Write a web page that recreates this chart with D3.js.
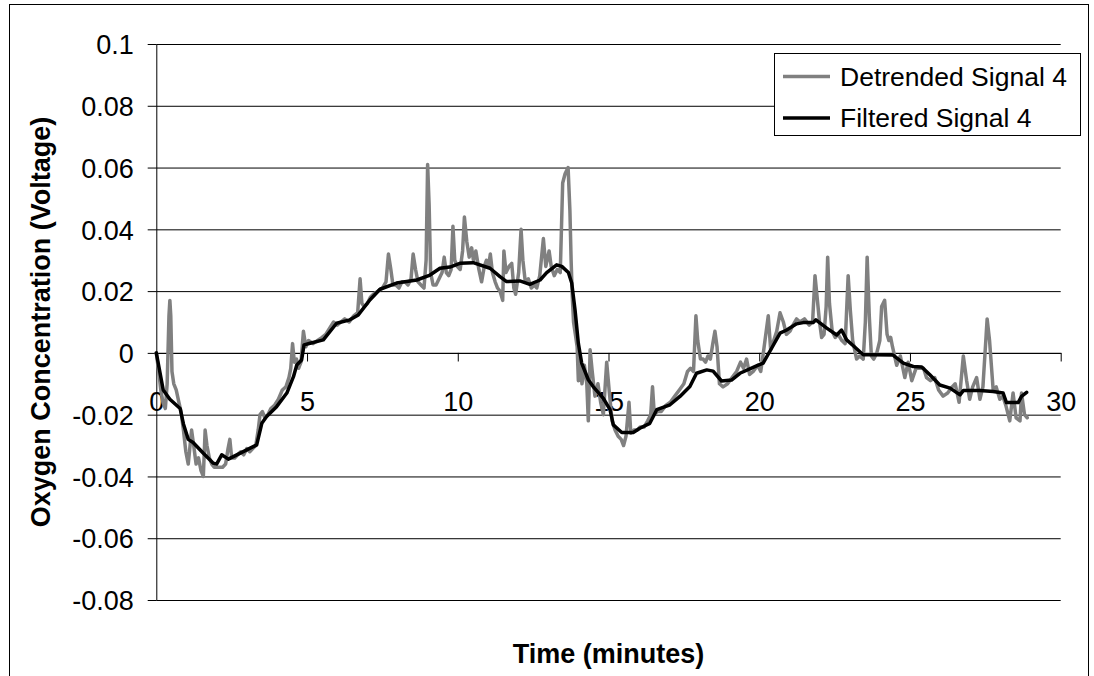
<!DOCTYPE html>
<html>
<head>
<meta charset="utf-8">
<script src="https://cdn.jsdelivr.net/npm/d3@7"></script>
<style>
  html, body { margin: 0; padding: 0; background: #fff; }
  svg { display: block; font-family: "Liberation Sans", Arial, sans-serif; }
</style>
</head>
<body>
<svg id="chart" width="1094" height="676"></svg>
<script>
// ---------------- data ----------------
const detrendedTime = [
  0.00,0.08,0.15,0.22,0.30,0.36,0.42,0.45,0.48,0.52,0.58,0.66,0.75,0.82,0.90,0.98,1.06,1.12,1.17,1.24,
  1.32,1.40,1.48,1.56,1.62,1.68,1.76,1.84,1.92,2.00,2.10,2.20,2.30,2.38,2.44,2.50,2.60,2.70,2.80,2.90,
  3.00,3.10,3.20,3.30,3.38,3.44,3.52,3.60,3.70,3.80,3.92,4.05,4.18,4.30,4.40,4.46,4.52,4.58,4.65,4.72,
  4.80,4.88,4.96,5.05,5.20,5.35,5.50,5.62,5.75,5.88,6.00,6.12,6.25,6.40,6.55,6.68,6.76,6.82,6.90,7.00,
  7.10,7.20,7.35,7.50,7.62,7.70,7.78,7.85,7.95,8.05,8.15,8.25,8.35,8.45,8.52,8.60,8.68,8.78,8.88,8.95,
  9.00,9.05,9.10,9.18,9.28,9.38,9.48,9.55,9.62,9.70,9.78,9.84,9.90,9.98,10.08,10.16,10.22,10.30,10.38,10.46,
  10.52,10.60,10.70,10.79,10.88,10.95,11.02,11.08,11.15,11.24,11.32,11.40,11.49,11.53,11.60,11.70,11.79,11.86,11.92,12.02,
  12.10,12.16,12.24,12.34,12.44,12.54,12.62,12.72,12.84,12.92,13.03,13.10,13.20,13.30,13.40,13.48,13.56,13.66,13.72,13.76,
  13.80,13.84,13.90,13.96,14.00,14.05,14.12,14.20,14.28,14.33,14.39,14.46,14.55,14.65,14.74,14.83,14.94,15.03,15.12,15.22,
  15.32,15.42,15.50,15.58,15.68,15.74,15.84,15.95,16.05,16.18,16.30,16.40,16.46,16.52,16.62,16.75,16.90,17.05,17.20,17.35,
  17.50,17.62,17.72,17.82,17.90,17.96,18.05,18.14,18.22,18.30,18.38,18.46,18.53,18.60,18.68,18.80,18.95,19.10,19.25,19.38,
  19.48,19.58,19.68,19.80,19.95,20.05,20.15,20.30,20.38,20.48,20.58,20.69,20.80,20.90,21.02,21.12,21.24,21.35,21.50,21.66,
  21.77,21.85,21.92,22.00,22.07,22.15,22.22,22.27,22.33,22.42,22.52,22.62,22.74,22.85,22.95,23.02,23.10,23.23,23.33,23.45,
  23.52,23.58,23.65,23.72,23.80,23.90,24.00,24.06,24.16,24.24,24.30,24.36,24.42,24.56,24.68,24.83,24.94,25.06,25.20,25.32,
  25.45,25.55,25.68,25.82,25.95,26.10,26.25,26.40,26.50,26.63,26.77,26.88,26.98,27.08,27.21,27.32,27.42,27.56,27.64,27.76,
  27.86,27.98,28.08,28.18,28.31,28.42,28.52,28.65,28.70,28.80,28.89
];
const detrendedValues = [
  0.000,-0.006,-0.012,-0.016,-0.018,-0.010,0.012,0.017,0.012,-0.006,-0.010,-0.012,-0.016,-0.019,-0.025,-0.032,-0.036,-0.030,-0.025,-0.030,
  -0.036,-0.034,-0.038,-0.040,-0.025,-0.030,-0.034,-0.036,-0.037,-0.037,-0.037,-0.037,-0.036,-0.031,-0.028,-0.034,-0.034,-0.033,-0.032,-0.033,
  -0.031,-0.032,-0.031,-0.030,-0.025,-0.020,-0.019,-0.021,-0.020,-0.018,-0.017,-0.015,-0.012,-0.011,-0.008,-0.005,0.003,-0.003,-0.002,-0.005,
  -0.003,0.007,0.002,0.004,0.003,0.004,0.005,0.006,0.008,0.010,0.009,0.010,0.011,0.010,0.012,0.013,0.024,0.016,0.015,0.016,
  0.018,0.019,0.020,0.021,0.023,0.032,0.027,0.022,0.022,0.021,0.023,0.023,0.022,0.024,0.032,0.027,0.023,0.022,0.021,0.030,
  0.061,0.048,0.026,0.022,0.022,0.024,0.026,0.031,0.026,0.025,0.027,0.041,0.030,0.028,0.027,0.033,0.044,0.036,0.031,0.034,
  0.030,0.033,0.027,0.023,0.028,0.030,0.028,0.032,0.026,0.023,0.021,0.020,0.017,0.033,0.026,0.028,0.029,0.021,0.019,0.026,
  0.040,0.030,0.023,0.024,0.021,0.022,0.021,0.025,0.037,0.028,0.033,0.028,0.025,0.027,0.026,0.055,0.058,0.060,0.046,0.030,
  0.018,0.010,0.006,0.002,-0.009,-0.002,-0.010,-0.004,-0.010,-0.022,0.001,-0.006,-0.014,-0.010,-0.016,-0.020,-0.003,-0.013,-0.022,-0.025,
  -0.027,-0.028,-0.030,-0.027,-0.016,-0.026,-0.025,-0.025,-0.024,-0.024,-0.022,-0.020,-0.011,-0.020,-0.019,-0.019,-0.017,-0.016,-0.014,-0.012,
  -0.010,-0.006,-0.005,-0.006,0.012,0.004,-0.002,-0.002,-0.003,-0.001,-0.002,0.003,0.007,0.002,-0.010,-0.011,-0.010,-0.008,-0.006,-0.003,
  -0.005,-0.002,-0.007,-0.006,-0.004,-0.006,0.001,0.012,0.001,0.004,0.007,0.013,0.010,0.006,0.007,0.009,0.011,0.010,0.011,0.009,
  0.010,0.025,0.018,0.010,0.005,0.006,0.015,0.031,0.016,0.007,0.005,0.006,0.004,0.003,0.025,0.014,0.004,-0.002,-0.001,-0.002,
  0.010,0.031,0.012,-0.001,-0.002,0.000,0.004,0.015,0.017,0.006,0.004,0.005,0.002,-0.004,-0.001,-0.008,-0.003,-0.009,-0.005,-0.005,
  -0.005,-0.008,-0.009,-0.008,-0.012,-0.014,-0.013,-0.011,-0.010,-0.016,-0.001,-0.009,-0.015,-0.011,-0.008,-0.015,-0.011,0.011,0.004,-0.012,
  -0.011,-0.015,-0.014,-0.017,-0.022,-0.013,-0.021,-0.022,-0.013,-0.020,-0.021
];

const filteredTime = [
  0.00,0.23,0.45,0.79,0.90,1.06,1.22,1.56,1.89,2.00,2.17,2.39,2.67,3.00,3.33,3.50,3.66,3.99,4.33,4.55,
  4.66,4.82,4.90,5.10,5.54,5.98,6.42,6.70,7.09,7.42,7.97,8.64,9.08,9.41,9.74,10.07,10.51,11.07,11.40,11.62,
  12.06,12.39,12.73,12.95,13.28,13.45,13.67,13.78,13.89,14.00,14.11,14.33,14.49,14.83,15.05,15.16,15.44,15.82,16.04,16.37,
  16.60,17.04,17.37,17.70,17.92,18.26,18.47,18.75,19.08,19.36,19.91,20.13,20.41,20.69,20.91,21.24,21.46,21.79,21.88,22.24,
  22.57,22.73,22.90,23.12,23.45,23.78,24.44,24.78,25.11,25.39,25.66,25.99,26.33,26.66,26.77,27.32,27.76,28.09,28.20,28.59,
  28.70,28.87
];
const filteredValues = [
  0.0000,-0.0120,-0.0150,-0.0180,-0.0230,-0.0280,-0.0290,-0.0325,-0.0357,-0.0360,-0.0330,-0.0344,-0.0330,-0.0314,-0.0298,-0.0228,-0.0206,-0.0174,-0.0130,-0.0077,
  -0.0039,-0.0023,0.0026,0.0031,0.0042,0.0096,0.0107,0.0123,0.0172,0.0206,0.0226,0.0236,0.0252,0.0274,0.0278,0.0290,0.0292,0.0274,0.0247,0.0231,
  0.0233,0.0222,0.0236,0.0260,0.0285,0.0280,0.0260,0.0226,0.0139,0.0031,-0.0033,-0.0087,-0.0109,-0.0147,-0.0184,-0.0233,-0.0258,-0.0258,-0.0244,-0.0228,
  -0.0184,-0.0168,-0.0141,-0.0109,-0.0066,-0.0055,-0.0059,-0.0091,-0.0088,-0.0066,-0.0042,-0.0033,0.0015,0.0064,0.0074,0.0094,0.0098,0.0098,0.0107,0.0080,
  0.0058,0.0074,0.0042,0.0023,-0.0006,-0.0006,-0.0007,-0.0033,-0.0044,-0.0046,-0.0071,-0.0104,-0.0114,-0.0136,-0.0122,-0.0122,-0.0125,-0.0130,-0.0161,-0.0161,
  -0.0141,-0.0128
];

const seriesNames = ["Detrended Signal 4", "Filtered Signal 4"];
const xTicks = [0, 5, 10, 15, 20, 25, 30];
const xTickLabels = ["0", "5", "10", "15", "20", "25", "30"];
const yTicks = [-0.08, -0.06, -0.04, -0.02, 0, 0.02, 0.04, 0.06, 0.08, 0.1];
const yTickLabels = ["-0.08", "-0.06", "-0.04", "-0.02", "0", "0.02", "0.04", "0.06", "0.08", "0.1"];
const xTitle = "Time (minutes)";
const yTitle = "Oxygen Concentration (Voltage)";

// ---------------- layout ----------------
const svg = d3.select("#chart");
const plot = { left: 156.3, right: 1060.7, top: 44, bottom: 600 };
const x = d3.scaleLinear().domain([0, 30]).range([plot.left, plot.right]);
const y = d3.scaleLinear().domain([-0.08, 0.1]).range([plot.bottom, plot.top]);
const FONT = 27;

// outer chart border
svg.append("rect").attr("x", 9.5).attr("y", 4.5).attr("width", 1079).attr("height", 720)
  .attr("fill", "#fff").attr("stroke", "#000").attr("stroke-width", 1);

// horizontal gridlines
svg.append("g").attr("transform", `translate(${plot.left},0)`)
  .call(d3.axisLeft(y).tickValues(yTicks).tickSize(-(plot.right - plot.left)).tickFormat(""))
  .call(g => g.select(".domain").remove())
  .call(g => g.selectAll("line").attr("stroke", "#000").attr("stroke-width", 1));

// y axis with outside ticks and labels
const yLab = d3.scaleOrdinal().domain(yTicks).range(yTickLabels);
svg.append("g").attr("transform", `translate(${plot.left},0)`)
  .call(d3.axisLeft(y).tickValues(yTicks).tickSizeInner(8.6).tickSizeOuter(0).tickPadding(14)
    .tickFormat(d => yLab(d)))
  .call(g => g.select(".domain").attr("stroke", "#000"))
  .call(g => g.selectAll("line").attr("stroke", "#000"))
  .call(g => g.selectAll("text").attr("font-size", FONT).attr("fill", "#000")
    .attr("font-family", "'Liberation Sans', Arial, sans-serif").attr("dy", "0.36em"));

// x axis at y = 0
const xLab = d3.scaleOrdinal().domain(xTicks).range(xTickLabels);
svg.append("g").attr("transform", `translate(0,${y(0)})`)
  .call(d3.axisBottom(x).tickValues(xTicks).tickSizeInner(8.6).tickSizeOuter(0).tickPadding(30)
    .tickFormat(d => xLab(d)))
  .call(g => g.select(".domain").attr("stroke", "#000"))
  .call(g => g.selectAll("line").attr("stroke", "#000"))
  .call(g => g.selectAll("text").attr("font-size", FONT).attr("fill", "#000")
    .attr("font-family", "'Liberation Sans', Arial, sans-serif"));

// series
const detrended = detrendedTime.map((t, i) => [t, detrendedValues[i]]);
const filtered = filteredTime.map((t, i) => [t, filteredValues[i]]);
const line = d3.line().x(d => x(d[0])).y(d => y(d[1]));

svg.append("path").datum(detrended).attr("d", line)
  .attr("fill", "none").attr("stroke", "#808080").attr("stroke-width", 3.5)
  .attr("stroke-linejoin", "round").attr("stroke-linecap", "round");
svg.append("path").datum(filtered).attr("d", line)
  .attr("fill", "none").attr("stroke", "#000").attr("stroke-width", 3.5)
  .attr("stroke-linejoin", "round").attr("stroke-linecap", "round");

// axis titles
svg.append("text").attr("x", (plot.left + plot.right) / 2).attr("y", 663)
  .attr("text-anchor", "middle").attr("font-size", FONT).attr("font-weight", "bold").text(xTitle);
svg.append("text").attr("transform", `translate(50,${(plot.top + plot.bottom) / 2}) rotate(-90)`)
  .attr("text-anchor", "middle").attr("font-size", FONT).attr("font-weight", "bold").text(yTitle);

// legend
const lg = svg.append("g");
lg.append("rect").attr("x", 774.5).attr("y", 53.5).attr("width", 306).attr("height", 82)
  .attr("fill", "#fff").attr("stroke", "#000").attr("stroke-width", 1);
const legendColors = ["#808080", "#000"];
const legendRowY = [76.5, 118];
seriesNames.forEach((name, i) => {
  lg.append("line").attr("x1", 783).attr("x2", 830).attr("y1", legendRowY[i]).attr("y2", legendRowY[i])
    .attr("stroke", legendColors[i]).attr("stroke-width", 3.5);
  lg.append("text").attr("x", 840).attr("y", legendRowY[i] + 9).attr("font-size", 26.5).text(name);
});
</script>
</body>
</html>
